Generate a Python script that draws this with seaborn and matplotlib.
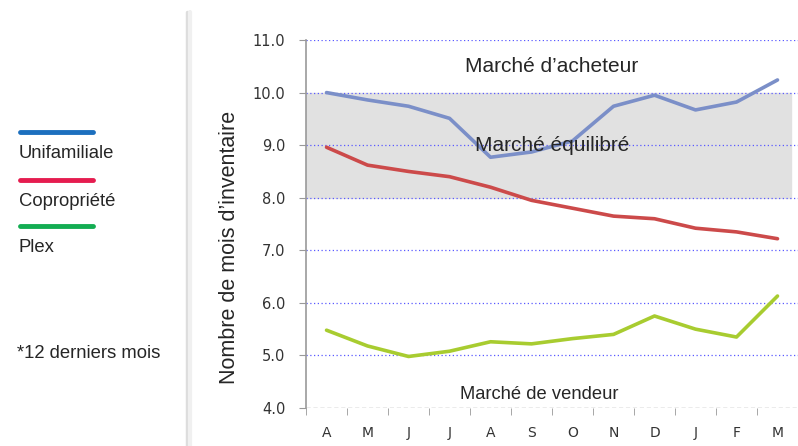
import pandas as pd
import numpy as np
import seaborn as sns
import matplotlib.pyplot as plt
from matplotlib.lines import Line2D

# Data
months = ['A', 'M', 'J', 'J', 'A', 'S', 'O', 'N', 'D', 'J', 'F', 'M']
unifamiliale = [10.0, 9.86, 9.74, 9.51, 8.77, 8.87, 9.08, 9.74, 9.95, 9.67, 9.82, 10.24]
copropriete = [8.96, 8.62, 8.5, 8.4, 8.2, 7.95, 7.8, 7.65, 7.6, 7.42, 7.35, 7.22]
plex = [5.48, 5.18, 4.98, 5.08, 5.26, 5.22, 5.32, 5.4, 5.75, 5.5, 5.35, 6.13]
series_names = ['Unifamiliale', 'Copropriété', 'Plex']
line_colors = ['#7b8fc8', '#cc4a4a', '#a8cc30']
legend_colors = ['#1c6fbe', '#e51c4f', '#13ad52']

df = pd.DataFrame({
    'pos': list(range(len(months))) * 3,
    'value': unifamiliale + copropriete + plex,
    'type': [n for n in series_names for _ in months],
})

sns.set_style('white')
plt.rcParams['font.family'] = ['Liberation Sans', 'DejaVu Sans']

fig = plt.figure(figsize=(7.98, 4.46), dpi=100)
ax = fig.add_axes([0.3835, 0.0852, 0.6165, 0.8251])

#Market bands
ax.axhspan(8, 10, color='#e1e1e1', zorder=0, xmin=0, xmax=0.985)

sns.lineplot(data=df, x='pos', y='value', hue='type', palette=dict(zip(series_names, line_colors)),
             linewidth=2.6, legend=False, ax=ax, zorder=3)

for yv in [5, 6, 7, 8, 9, 10, 11]:
    ax.axhline(yv, color='#5a5aff', linestyle=(0, (1, 2)), linewidth=0.9, zorder=1)
ax.axhline(4, color='#999999', linestyle=(0, (3, 2)), linewidth=1.0, zorder=1)

ax.set_xlim(-0.5, 11.5)
ax.set_ylim(4, 11)
ax.set_yticks(np.arange(4, 12, 1))
ax.set_yticklabels([f'{v:.1f}' for v in np.arange(4, 12, 1)], fontsize=10.5, color='#333333',
                   family='DejaVu Sans')
ax.set_xticks(range(len(months)))
ax.set_xticklabels(months, fontsize=10, color='#333333', family='DejaVu Sans')
ax.set_xticks(np.arange(-0.5, 12, 1), minor=True)
ax.tick_params(axis='x', which='major', length=0, pad=13)
ax.tick_params(axis='x', which='minor', length=5, color='#999999', bottom=True)
ax.tick_params(axis='y', length=5, color='#999999', left=True, pad=10)
ax.set_xlabel('')
ax.set_ylabel("Nombre de mois d’inventaire", fontsize=15.5)
ax.yaxis.set_label_coords(-0.135, 0.435)

for s in ['top', 'right', 'bottom']:
    ax.spines[s].set_visible(False)
ax.spines['left'].set_color('#999999')
ax.spines['left'].set_linewidth(1.2)

ax.text(5.5, 10.5, 'Marché d’acheteur', fontsize=15, ha='center', va='center', zorder=4)
ax.text(5.5, 9.0, 'Marché équilibré', fontsize=15, ha='center', va='center', zorder=4)
ax.text(5.2, 4.25, 'Marché de vendeur', fontsize=13.2, ha='center', va='center', zorder=4)

# Left legend panel
leg_y = [132, 180, 226]
for name, col, y in zip(series_names, legend_colors, leg_y):
    fy = 1 - y / 446
    fig.add_artist(Line2D([20 / 798, 93 / 798], [fy, fy], color=col, linewidth=3.5))
    fig.text(19 / 798, 1 - (y + 21) / 446, name, fontsize=13.3, va='center', ha='left')
fig.text(17 / 798, 1 - 353 / 446, '*12 derniers mois', fontsize=13.3, va='center', ha='left')

# separator
fig.add_artist(Line2D([187 / 798, 187 / 798], [0, 1 - 12 / 446], color='#dddddd', linewidth=2.5))
fig.add_artist(Line2D([190 / 798, 190 / 798], [0, 1 - 12 / 446], color='#f0f0f0', linewidth=3))

fig.savefig('out.png', dpi=100)
